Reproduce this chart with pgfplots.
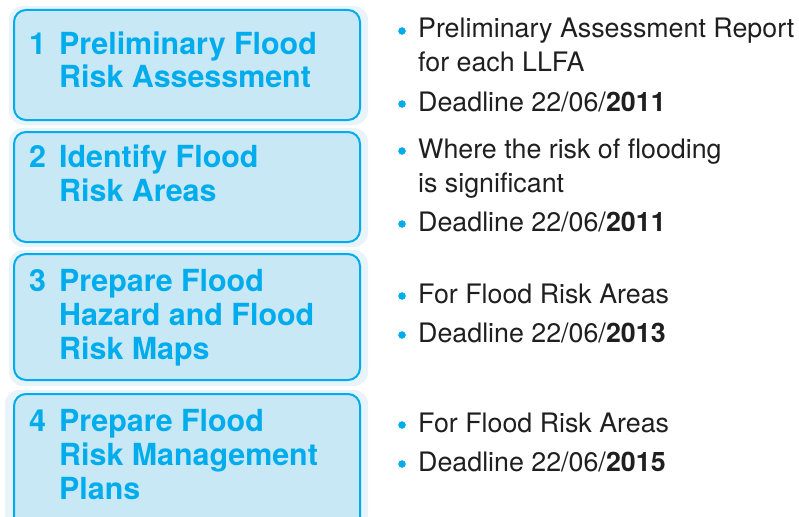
\documentclass[border=0pt]{standalone}
\usepackage{pgfplots}
\pgfplotsset{compat=1.18}
\usepackage{fontspec}
\setmainfont{TeX Gyre Heros}
\definecolor{cyanc}{RGB}{0,172,236}
\definecolor{fillc}{RGB}{201,232,246}
\definecolor{haloc}{RGB}{232,244,250}
\begin{document}
\begin{tikzpicture}
\begin{axis}[
  width=799pt, height=516pt, scale only axis,
  xmin=0, xmax=799, ymin=0, ymax=516, y dir=reverse,
  hide axis, clip=true,
]
% halos
\fill[haloc, rounded corners=14pt] (axis cs:9,6) rectangle (axis cs:368,125);
\fill[haloc, rounded corners=14pt] (axis cs:9,128) rectangle (axis cs:368,247);
\fill[haloc, rounded corners=14pt] (axis cs:9,250) rectangle (axis cs:368,386);
\fill[haloc, rounded corners=14pt] (axis cs:5,390) rectangle (axis cs:368,530);
% boxes
\draw[cyanc, fill=fillc, line width=2pt, rounded corners=12pt] (axis cs:14,10) rectangle (axis cs:360,120);
\draw[cyanc, fill=fillc, line width=2pt, rounded corners=12pt] (axis cs:14,132) rectangle (axis cs:360,242);
\draw[cyanc, fill=fillc, line width=2pt, rounded corners=12pt] (axis cs:14,254) rectangle (axis cs:360,380);
\draw[cyanc, fill=fillc, line width=2pt, rounded corners=12pt] (axis cs:14,394) rectangle (axis cs:360,530);
% box text
\begin{scope}[every node/.style={anchor=base west, inner sep=0pt, text=cyanc, font=\fontsize{30.4}{34}\selectfont\bfseries}]
\node at (axis cs:29,55) {1};
\node at (axis cs:59,55) {Preliminary Flood};
\node at (axis cs:59,88) {Risk Assessment};
\node at (axis cs:29,167) {2};
\node at (axis cs:59,167) {Identify Flood};
\node at (axis cs:59,201) {Risk Areas};
\node at (axis cs:29,291) {3};
\node at (axis cs:59,291) {Prepare Flood};
\node at (axis cs:59,325) {Hazard and Flood};
\node at (axis cs:59,359) {Risk Maps};
\node at (axis cs:29,431) {4};
\node at (axis cs:59,431) {Prepare Flood};
\node at (axis cs:59,465) {Risk Management};
\node at (axis cs:59,499) {Plans};
\end{scope}
% bullets
\begin{scope}[every node/.style={anchor=base west, inner sep=0pt, text=black!88, font=\fontsize{26.8}{32}\selectfont}]
\node at (axis cs:418,38) {Preliminary Assessment Report};
\node at (axis cs:418,72) {for each LLFA};
\node at (axis cs:418,111) {Deadline 22/06/\textbf{2011}};
\node at (axis cs:418,158) {Where the risk of flooding};
\node at (axis cs:418,192) {is significant};
\node at (axis cs:418,231) {Deadline 22/06/\textbf{2011}};
\node at (axis cs:418,303) {For Flood Risk Areas};
\node at (axis cs:418,342) {Deadline 22/06/\textbf{2013}};
\node at (axis cs:418,432) {For Flood Risk Areas};
\node at (axis cs:418,471) {Deadline 22/06/\textbf{2015}};
\end{scope}
\addplot[only marks, mark=*, mark size=3.5pt, color=cyanc] coordinates {
  (402,31) (402,104) (402,151) (402,224) (402,296) (402,335) (402,425) (402,464)
};
\end{axis}
\pgfresetboundingbox
\useasboundingbox (0,0) rectangle (799pt,516pt);
\end{tikzpicture}
\end{document}
